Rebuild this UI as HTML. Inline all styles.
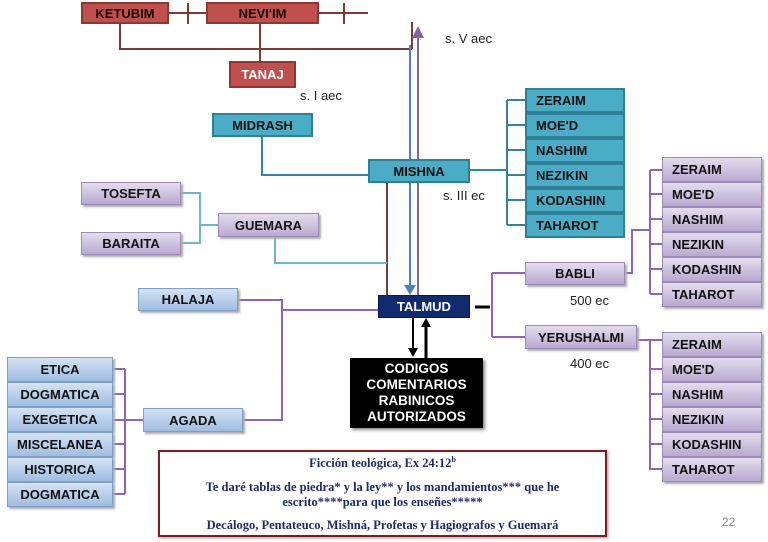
<!DOCTYPE html>
<html><head><meta charset="utf-8"><style>
body{margin:0;width:768px;height:542px;background:#fff;position:relative;overflow:hidden;font-family:"Liberation Sans",sans-serif}
.b{position:absolute;box-sizing:border-box;display:flex;align-items:center;justify-content:center;font-weight:bold;font-size:13px;color:#111;white-space:nowrap}
.r{background:#c0504d;border:2px solid #8a3a36;color:#1a0000}
.t{background:#4bacc6;border:2px solid #2f7f99}
.p{background:linear-gradient(#e4dcee,#b9a9d0);border:1px solid #9d8cb8;box-shadow:2px 2px 2px #aaa}
.l{background:linear-gradient(#d4e2f4,#9fbde2);border:1px solid #7f9fc6;box-shadow:2px 2px 2px #aaa}
.pl{justify-content:flex-start;padding-left:9px}
.lab{position:absolute;font-size:13px;color:#222}
svg{position:absolute;left:0;top:0}
</style></head><body>
<svg width="768" height="542">
<g stroke="#7b3a36" stroke-width="2" fill="none">
<line x1="169" y1="13" x2="368" y2="13"/><line x1="188" y1="3" x2="188" y2="24"/><line x1="344" y1="3" x2="344" y2="24"/>
<polyline points="120,24 120,49 412,49"/><line x1="260" y1="24" x2="260" y2="61"/>
<line x1="412" y1="22" x2="412" y2="49"/>
<line x1="387" y1="183" x2="387" y2="295"/>
</g>
<g stroke="#4f81bd" stroke-width="2" fill="none"><line x1="410" y1="45" x2="410" y2="290"/></g>
<polygon points="404,285 416,285 410,295" fill="#4f81bd"/>
<g stroke="#8064a2" stroke-width="2" fill="none"><line x1="418" y1="295" x2="418" y2="36"/></g>
<polygon points="412,38 424,38 418,26" fill="#8064a2"/>
<g stroke="#31849b" stroke-width="2" fill="none">
<polyline points="262,137 262,175 368,175"/>
<line x1="470" y1="170" x2="507" y2="170"/>
<line x1="507" y1="100" x2="507" y2="225"/>
<line x1="507" y1="100" x2="525" y2="100"/><line x1="507" y1="125" x2="525" y2="125"/><line x1="507" y1="150" x2="525" y2="150"/><line x1="507" y1="175" x2="525" y2="175"/><line x1="507" y1="200" x2="525" y2="200"/><line x1="507" y1="225" x2="525" y2="225"/>
</g>
<g stroke="#6fb6cc" stroke-width="2" fill="none">
<polyline points="181,193 200,193 200,243 181,243"/><line x1="200" y1="225" x2="218" y2="225"/>
<polyline points="275,237 275,263 387,263"/>
</g>
<g stroke="#7030a0" stroke-width="2" fill="none" opacity=".75">
<polyline points="492,273 492,337"/><line x1="492" y1="273" x2="525" y2="273"/><line x1="492" y1="337" x2="525" y2="337"/>
<polyline points="625,273 632,273 632,230 650,230"/>
<line x1="650" y1="170" x2="650" y2="294"/>
<line x1="650" y1="170" x2="662" y2="170"/><line x1="650" y1="194" x2="662" y2="194"/><line x1="650" y1="219" x2="662" y2="219"/><line x1="650" y1="244" x2="662" y2="244"/><line x1="650" y1="269" x2="662" y2="269"/><line x1="650" y1="294" x2="662" y2="294"/>
<line x1="637" y1="340" x2="662" y2="340"/>
<line x1="650" y1="340" x2="650" y2="470"/>
<line x1="650" y1="369" x2="662" y2="369"/><line x1="650" y1="394" x2="662" y2="394"/><line x1="650" y1="419" x2="662" y2="419"/><line x1="650" y1="444" x2="662" y2="444"/><line x1="650" y1="469" x2="662" y2="469"/>
<polyline points="238,300 282,300 282,420 243,420"/><line x1="282" y1="310" x2="378" y2="310"/>
<line x1="113" y1="420" x2="143" y2="420"/>
<line x1="125" y1="369" x2="125" y2="494"/>
<line x1="113" y1="369" x2="125" y2="369"/><line x1="113" y1="394" x2="125" y2="394"/><line x1="113" y1="444" x2="125" y2="444"/><line x1="113" y1="469" x2="125" y2="469"/><line x1="113" y1="494" x2="125" y2="494"/>
</g>
<line x1="475" y1="307" x2="490" y2="307" stroke="#000" stroke-width="3"/>
<line x1="413" y1="318" x2="413" y2="350" stroke="#000" stroke-width="2"/><polygon points="408,348 418,348 413,357" fill="#000"/>
<line x1="426" y1="358" x2="426" y2="325" stroke="#000" stroke-width="3"/><polygon points="421,327 431,327 426,318" fill="#000"/>
</svg>
<div class="b r" style="left:81px;top:2px;width:88px;height:22px">KETUBIM</div>
<div class="b r" style="left:206px;top:2px;width:113px;height:22px">NEVI'IM</div>
<div class="b r" style="left:229px;top:61px;width:67px;height:27px;color:#fff">TANAJ</div>
<div class="b t" style="left:212px;top:113px;width:101px;height:24px">MIDRASH</div>
<div class="b t" style="left:368px;top:159px;width:102px;height:24px">MISHNA</div>
<div class="b p" style="left:81px;top:182px;width:100px;height:23px">TOSEFTA</div>
<div class="b p" style="left:81px;top:232px;width:100px;height:23px">BARAITA</div>
<div class="b p" style="left:218px;top:213px;width:101px;height:24px">GUEMARA</div>
<div class="b t pl" style="left:525px;top:88px;width:100px;height:25px">ZERAIM</div>
<div class="b t pl" style="left:525px;top:113px;width:100px;height:25px">MOE'D</div>
<div class="b t pl" style="left:525px;top:138px;width:100px;height:25px">NASHIM</div>
<div class="b t pl" style="left:525px;top:163px;width:100px;height:25px">NEZIKIN</div>
<div class="b t pl" style="left:525px;top:188px;width:100px;height:25px">KODASHIN</div>
<div class="b t pl" style="left:525px;top:213px;width:100px;height:25px">TAHAROT</div>
<div class="b" style="left:378px;top:295px;width:92px;height:23px;background:#0f2a6e;border:1px solid #071a4a;color:#fff">TALMUD</div>
<div class="b p" style="left:525px;top:262px;width:100px;height:23px">BABLI</div>
<div class="b p" style="left:525px;top:325px;width:112px;height:24px">YERUSHALMI</div>
<div class="b p pl" style="left:662px;top:157px;width:100px;height:25px">ZERAIM</div>
<div class="b p pl" style="left:662px;top:182px;width:100px;height:25px">MOE'D</div>
<div class="b p pl" style="left:662px;top:207px;width:100px;height:25px">NASHIM</div>
<div class="b p pl" style="left:662px;top:232px;width:100px;height:25px">NEZIKIN</div>
<div class="b p pl" style="left:662px;top:257px;width:100px;height:25px">KODASHIN</div>
<div class="b p pl" style="left:662px;top:282px;width:100px;height:25px">TAHAROT</div>
<div class="b p pl" style="left:662px;top:332px;width:100px;height:25px">ZERAIM</div>
<div class="b p pl" style="left:662px;top:357px;width:100px;height:25px">MOE'D</div>
<div class="b p pl" style="left:662px;top:382px;width:100px;height:25px">NASHIM</div>
<div class="b p pl" style="left:662px;top:407px;width:100px;height:25px">NEZIKIN</div>
<div class="b p pl" style="left:662px;top:432px;width:100px;height:25px">KODASHIN</div>
<div class="b p pl" style="left:662px;top:457px;width:100px;height:25px">TAHAROT</div>
<div class="b l" style="left:138px;top:288px;width:100px;height:23px">HALAJA</div>
<div class="b l" style="left:143px;top:408px;width:100px;height:24px">AGADA</div>
<div class="b l" style="left:7px;top:357px;width:106px;height:25px">ETICA</div>
<div class="b l" style="left:7px;top:382px;width:106px;height:25px">DOGMATICA</div>
<div class="b l" style="left:7px;top:407px;width:106px;height:25px">EXEGETICA</div>
<div class="b l" style="left:7px;top:432px;width:106px;height:25px">MISCELANEA</div>
<div class="b l" style="left:7px;top:457px;width:106px;height:25px">HISTORICA</div>
<div class="b l" style="left:7px;top:482px;width:106px;height:25px">DOGMATICA</div>
<div class="b" style="left:350px;top:358px;width:133px;height:70px;background:#000;color:#fff;flex-direction:column;text-align:center;line-height:16px;font-size:13.5px;box-shadow:2px 2px 3px #888">CODIGOS<br>COMENTARIOS<br>RABINICOS<br>AUTORIZADOS</div>
<div class="lab" style="left:445px;top:31px">s. V aec</div>
<div class="lab" style="left:300px;top:88px">s. I aec</div>
<div class="lab" style="left:443px;top:188px">s. III ec</div>
<div class="lab" style="left:570px;top:293px">500 ec</div>
<div class="lab" style="left:570px;top:356px">400 ec</div>
<div class="lab" style="left:722px;top:515px;color:#888;font-size:12px">22</div>
<div style="position:absolute;left:158px;top:450px;width:449px;height:87px;box-sizing:border-box;border:2px solid #7f1d1d;box-shadow:1px 1px 3px #999;font-family:'Liberation Serif',serif;font-size:12.5px;color:#1f2a6e;text-align:center;font-weight:bold;line-height:15px">
<div style="margin-top:4px">Ficción teológica, Ex 24:12<sup style="font-size:8px;line-height:0">b</sup></div>
<div style="margin-top:9px">Te daré tablas de piedra* y la ley** y los mandamientos*** que he<br>escrito****para que los enseñes*****</div>
<div style="margin-top:8px">Decálogo, Pentateuco, Mishná, Profetas y Hagiografos y Guemará</div>
</div>
</body></html>
